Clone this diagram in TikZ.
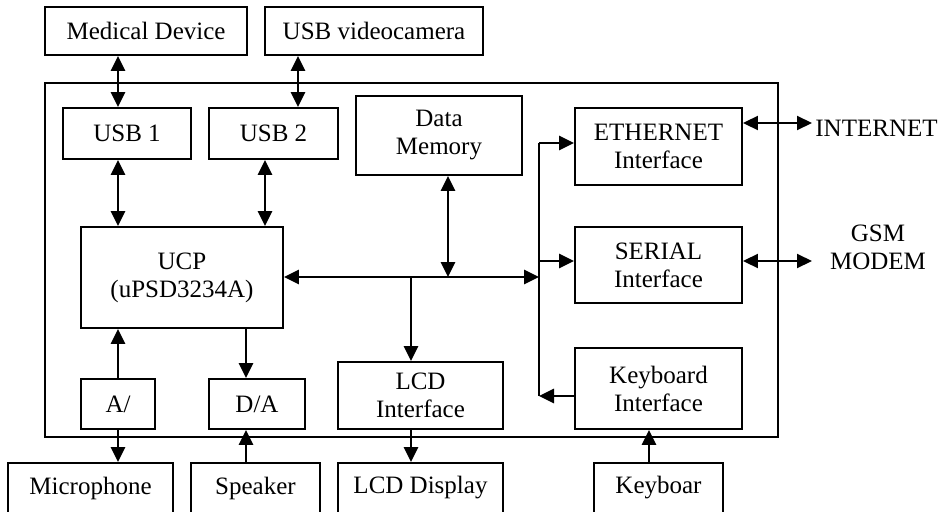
\documentclass[tikz,border=0pt]{standalone}
\usepackage{fontspec}
\setmainfont{Liberation Serif}
\usetikzlibrary{arrows.meta}
\begin{document}
\begin{tikzpicture}[x=1pt,y=-1pt,
  box/.style={draw,line width=1.9pt,inner sep=0pt,align=center,
    font=\fontsize{25}{28}\selectfont},
  lbl/.style={inner sep=0pt,align=center,font=\fontsize{25}{28}\selectfont},
  arr/.style={line width=2.8pt,-{Triangle[length=15pt,width=14pt]}},
  darr/.style={line width=2.8pt,{Triangle[length=15pt,width=14pt]}-{Triangle[length=15pt,width=14pt]}},
  tarr/.style={line width=2pt,{Triangle[length=15pt,width=14pt]}-{Triangle[length=15pt,width=14pt]}}]
\useasboundingbox (0,0) rectangle (941,511);
% main enclosure
\node[box,minimum width=733pt,minimum height=354pt] (main) at (411.5,260) {};
% top external
\node[box,minimum width=202pt,minimum height=48pt] (med) at (146,31) {Medical Device};
\node[box,minimum width=218pt,minimum height=48pt] (cam) at (374,31) {USB videocamera};
% internal
\node[box,minimum width=128pt,minimum height=51pt] (usb1) at (127,133.5) {USB 1};
\node[box,minimum width=129pt,minimum height=51pt] (usb2) at (273.5,133.5) {USB 2};
\node[box,minimum width=166pt,minimum height=79pt] (mem) at (439,135.5) {Data\\Memory};
\node[box,minimum width=167pt,minimum height=77pt] (eth) at (658.5,146.5) {ETHERNET\\Interface};
\node[box,minimum width=167pt,minimum height=76pt] (ser) at (658.5,265) {SERIAL\\Interface};
\node[box,minimum width=167pt,minimum height=81pt] (kbi) at (658.5,388.5) {Keyboard\\Interface};
\node[box,minimum width=202pt,minimum height=101pt] (ucp) at (182,277.5) {UCP\\(uPSD3234A)};
\node[box,minimum width=74pt,minimum height=50pt] (ad) at (118,404) {A/};
\node[box,minimum width=96pt,minimum height=50pt] (da) at (257,404) {D/A};
\node[box,minimum width=165pt,minimum height=67pt] (lcdi) at (420.5,395.5) {LCD\\Interface};
% bottom external
\node[box,minimum width=165pt,minimum height=50pt] (mic) at (90.5,488) {Microphone};
\node[box,minimum width=129pt,minimum height=50pt] (spk) at (255.5,488) {Speaker};
\node[box,minimum width=165pt,minimum height=50pt] (lcdd) at (420.5,488) {LCD Display};
\node[box,minimum width=129pt,minimum height=50pt] (kb) at (658.5,488) {Keyboar};
% right labels
\node[lbl] (inet) at (876.5,128) {INTERNET};
\node[lbl] (gsm) at (878,247) {GSM\\MODEM};
% helper coordinates
\coordinate (xa) at (118,0);
\coordinate (xb) at (298,0);
\coordinate (xc) at (265,0);
\coordinate (xd) at (246,0);
\coordinate (xm) at (448,0);
\coordinate (xl) at (411,0);
\coordinate (xk) at (649,0);
\coordinate (busR) at (539,277);
\coordinate (busT) at (539,143);
\coordinate (busB) at (539,396);
\coordinate (busS) at (539,261);
\coordinate (inetL) at (812,123);
\coordinate (gsmL) at (812,261);
% connectors
\draw[darr] (med.south -| xa) -- (usb1.north -| xa);
\draw[darr] (cam.south -| xb) -- (usb2.north -| xb);
\draw[darr] (usb1.south -| xa) -- (ucp.north -| xa);
\draw[darr] (usb2.south -| xc) -- (ucp.north -| xc);
\draw[arr] (ad.north) -- (ucp.south -| ad.north);
\draw[arr] (ucp.south -| xd) -- (da.north -| xd);
\draw[arr] (ad.south) -- (mic.north -| ad.south);
\draw[arr] (spk.north -| xd) -- (da.south -| xd);
\draw[arr] (lcdi.south -| xl) -- (lcdd.north -| xl);
\draw[darr] (ucp.east |- busR) -- (busR);
\draw[darr] (mem.south -| xm) -- (busR -| xm);
\draw[arr] (busR -| xl) -- (lcdi.north -| xl);
\draw[line width=2.8pt] (busT) -- (busB);
\draw[arr] (busT) -- (eth.west |- busT);
\draw[arr] (busS) -- (ser.west |- busS);
\draw[arr] (kbi.west |- busB) -- (busB);
\draw[arr] (kb.north -| xk) -- (kbi.south -| xk);
\draw[tarr] (eth.east |- inetL) -- (inetL);
\draw[tarr] (ser.east |- gsmL) -- (gsmL);
\end{tikzpicture}
\end{document}
